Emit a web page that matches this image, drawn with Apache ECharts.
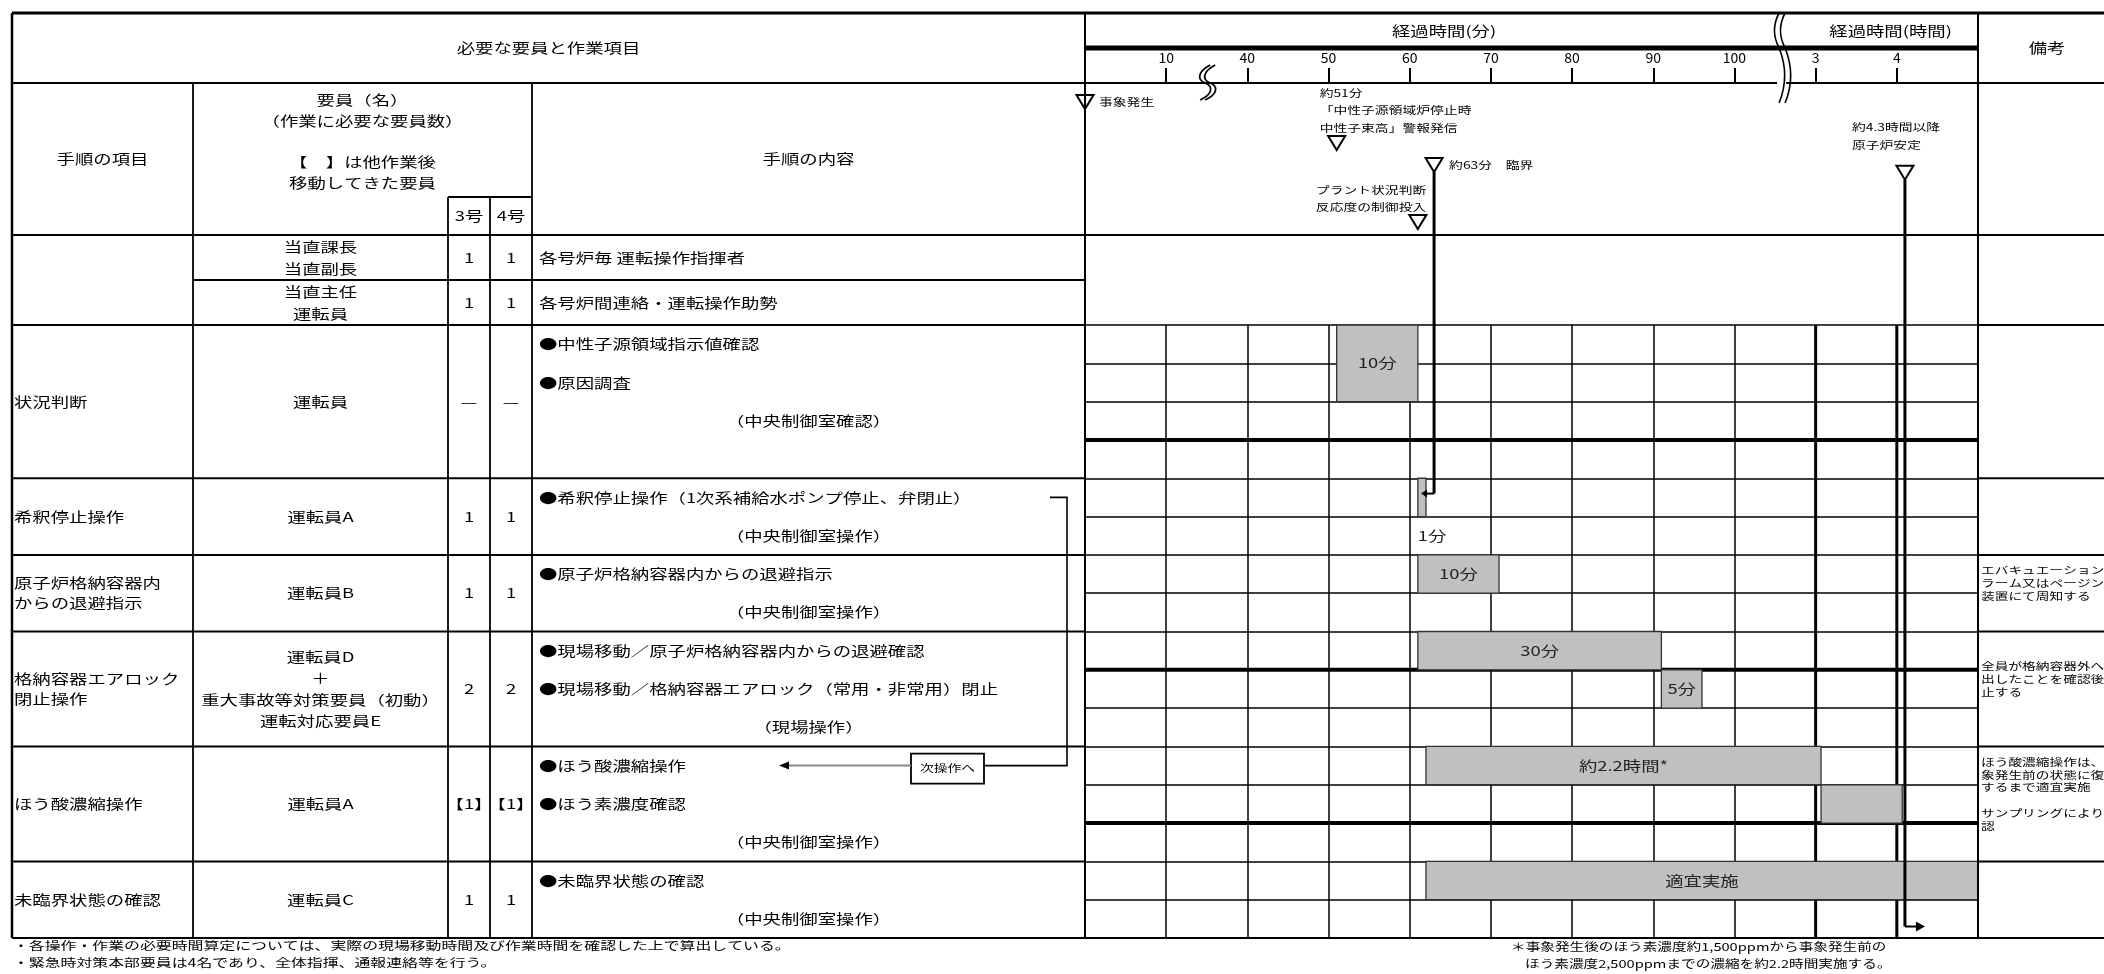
<!DOCTYPE html>
<html><head><meta charset="utf-8"><title>chart</title>
<script src="https://cdn.jsdelivr.net/npm/echarts@6.0.0/dist/echarts.min.js"></script>
<style>html,body{margin:0;padding:0;background:#fff;}#chart{width:2104px;height:974px;}</style>
</head><body><div id="chart"></div>
<script>
// ===== DATA =====
const tickMinutes = [0, 10, 40, 50, 60, 70, 80, 90, 100, 180, 240, 300];
const tickLabels = ['', '10', '40', '50', '60', '70', '80', '90', '100', '3', '4', ''];

const leadStaff = [['当直課長', '当直副長'], ['当直主任', '運転員']];
const leadUnit3 = ['1', '1'];
const leadUnit4 = ['1', '1'];
const leadContent = ['各号炉毎 運転操作指揮者', '各号炉間連絡・運転操作助勢'];

const procItems = [['状況判断'], ['希釈停止操作'], ['原子炉格納容器内', 'からの退避指示'], ['格納容器エアロック', '閉止操作'], ['ほう酸濃縮操作'], ['未臨界状態の確認']];
const procStaff = [['運転員'], ['運転員A'], ['運転員B'], ['運転員D', '＋', '重大事故等対策要員（初動）', '運転対応要員E'], ['運転員A'], ['運転員C']];
const procUnit3 = ['—', '1', '1', '2', '【1】', '1'];
const procUnit4 = ['—', '1', '1', '2', '【1】', '1'];
const procSubrows = [4, 2, 2, 3, 3, 2];
const procContent = [
  ['●中性子源領域指示値確認', '●原因調査', '（中央制御室確認）'],
  ['●希釈停止操作（1次系補給水ポンプ停止、弁閉止）', '（中央制御室操作）'],
  ['●原子炉格納容器内からの退避指示', '（中央制御室操作）'],
  ['●現場移動／原子炉格納容器内からの退避確認', '●現場移動／格納容器エアロック（常用・非常用）閉止', '（現場操作）'],
  ['●ほう酸濃縮操作', '●ほう素濃度確認', '（中央制御室操作）'],
  ['●未臨界状態の確認', '（中央制御室操作）']
];
const procNotes = [[], [], ['エバキュエーションア', 'ラーム又はページング', '装置にて周知する'],
  ['全員が格納容器外へ退', '出したことを確認後閉', '止する'],
  ['ほう酸濃縮操作は、事', '象発生前の状態に復帰', 'するまで適宜実施', '', 'サンプリングにより確', '認'], []];

// bars: minutes
const barStart   = [51, 61, 61, 61, 91, 62, 184, 62];
const barEnd     = [61, 62, 71, 91, 96, 184, 244, 300];
const barRowFrom = [0, 4, 6, 8, 9, 11, 12, 14];
const barRowTo   = [2, 5, 7, 9, 10, 12, 13, 15];
const barLabels  = ['10分', '1分', '10分', '30分', '5分', '約2.2時間*', '', '適宜実施'];

const eventTimes = [0, 51, 63, 61, 246];
const eventLabels = [['事象発生'], ['約51分', '「中性子源領域炉停止時', '中性子束高」警報発信'], ['約63分　臨界'], ['プラント状況判断', '反応度の制御投入'], ['約4.3時間以降', '原子炉安定']];

const footLeft = ['・各操作・作業の必要時間算定については、実際の現場移動時間及び作業時間を確認した上で算出している。', '・緊急時対策本部要員は4名であり、全体指揮、通報連絡等を行う。'];
const footRight = ['＊事象発生後のほう素濃度約1,500ppmから事象発生前の', 'ほう素濃度2,500ppmまでの濃縮を約2.2時間実施する。'];

// ===== LAYOUT / STYLE =====
const F = '"Noto Sans CJK JP","Noto Sans CJK SC",sans-serif';
const L = { x0: 12, cProc: 193, c3: 448, c4: 490, cCont: 532, tL: 1085, tR: 1978, pageR: 2104,
  yTop: 13, yTimeHdr: 48, yHdr1: 83, yUnit: 197, yHdr2: 235, yLeadMid: 280, yBody: 325, yBot: 938 };
const eventStyle = [
  { lvl: 0.125, dx: 14, dy: 0 },
  { lvl: 0.395, dx: -17, dy: -50 },
  { lvl: 0.54, dx: 15, dy: 0 },
  { lvl: 0.915, dx: -102, dy: -32 },
  { lvl: 0.59, dx: -53, dy: -45 }
];
const dividerRows = [3, 9, 13];
const hourCols = [9, 10];

function toPos(m) {
  for (let i = 0; i < tickMinutes.length - 1; i++) {
    if (m <= tickMinutes[i + 1]) return i + (m - tickMinutes[i]) / (tickMinutes[i + 1] - tickMinutes[i]);
  }
  return tickMinutes.length - 1;
}
function textEl(x, y, text, o) {
  o = o || {};
  const a = o.a || 'left';
  return { type: 'text', z: 101, silent: true, x: x, y: y, scaleX: o.sx || 1.36,
    style: { text: text, x: 0, y: 0, fontSize: o.fs || 13.5, fontFamily: F, fill: o.c || '#000',
      align: a, verticalAlign: 'middle', textAlign: a, textVerticalAlign: 'middle' } };
}

const chart = echarts.init(document.getElementById('chart'), null, { renderer: 'canvas' });
const blk = '#000';
const option = {
  backgroundColor: '#fff',
  animation: false,
  grid: [
    { left: L.tL, top: L.yBody, width: L.tR - L.tL, height: L.yBot - L.yBody, show: false },
    { left: L.tL, top: L.yHdr1, width: L.tR - L.tL, height: L.yHdr2 - L.yHdr1, show: false }
  ],
  xAxis: [
    { type: 'value', gridIndex: 0, min: 0, max: 11, interval: 1,
      axisLine: { show: false }, axisTick: { show: false }, axisLabel: { show: false },
      splitLine: { show: true, lineStyle: { color: blk, width: 1.5 } } },
    { type: 'value', gridIndex: 1, position: 'top', min: 0, max: 11, interval: 1,
      axisLine: { show: true, onZero: false, lineStyle: { color: blk, width: 1.8 } },
      axisTick: { show: true, inside: false, length: 15, lineStyle: { color: blk, width: 2 } },
      axisLabel: { show: true, margin: 18, fontSize: 14, fontFamily: F, color: '#000',
        formatter: function (v) { return tickLabels[Math.round(v)] || ''; } },
      splitLine: { show: false } }
  ],
  yAxis: [
    { type: 'value', gridIndex: 0, min: 0, max: 16, interval: 1, inverse: true,
      axisLine: { show: false }, axisTick: { show: false }, axisLabel: { show: false },
      splitLine: { show: true, lineStyle: { color: blk, width: 1.5 } } },
    { type: 'value', gridIndex: 1, min: 0, max: 1, inverse: true, show: false }
  ],
  series: [
    { type: 'custom', name: 'dividers', xAxisIndex: 0, yAxisIndex: 0, z: 3, silent: true,
      data: dividerRows.map(r => [0, r, 11, r]).concat(hourCols.map(c => [c, 0, c, 16])),
      encode: { x: [0, 2], y: [1, 3] },
      renderItem: function (params, api) {
        const a = api.coord([api.value(0), api.value(1)]);
        const b = api.coord([api.value(2), api.value(3)]);
        const horiz = api.value(1) === api.value(3);
        return { type: 'line', shape: { x1: a[0], y1: a[1], x2: b[0], y2: b[1] },
          style: { stroke: blk, lineWidth: horiz ? 4 : 3 } };
      } },
    { type: 'custom', name: 'bars', xAxisIndex: 0, yAxisIndex: 0, z: 5, silent: true,
      data: barStart.map((s, i) => [toPos(s), toPos(barEnd[i]), barRowFrom[i], barRowTo[i]]),
      encode: { x: [0, 1], y: [2, 3] },
      renderItem: function (params, api) {
        const p0 = api.coord([api.value(0), api.value(2)]);
        const p1 = api.coord([api.value(1), api.value(3)]);
        const w = p1[0] - p0[0], h = p1[1] - p0[1];
        const ch = [{ type: 'rect', shape: { x: p0[0], y: p0[1], width: w, height: h },
          style: { fill: '#c0c0c0', stroke: '#333', lineWidth: 1.3 } }];
        const lbl = barLabels[params.dataIndex];
        if (lbl) {
          if (w < 30) ch.push(textEl(p0[0], p1[1] + h / 2, lbl, { c: '#222' }));
          else ch.push(textEl(p0[0] + w / 2, p0[1] + h / 2, lbl, { a: 'center', c: '#222' }));
        }
        return { type: 'group', children: ch };
      } },
    { type: 'custom', name: 'events', xAxisIndex: 1, yAxisIndex: 1, z: 6, silent: true,
      data: eventTimes.map((t, i) => [toPos(t), eventStyle[i].lvl]),
      encode: { x: 0, y: 1 },
      renderItem: function (params, api) {
        const p = api.coord([api.value(0), api.value(1)]);
        const st = eventStyle[params.dataIndex];
        const ch = [{ type: 'polygon', shape: { points: [[p[0] - 8.5, p[1] - 7], [p[0] + 8.5, p[1] - 7], [p[0], p[1] + 7]] },
          style: { fill: '#fff', stroke: blk, lineWidth: 2 } }];
        eventLabels[params.dataIndex].forEach(function (t, k) {
          ch.push(textEl(p[0] + st.dx, p[1] + st.dy + k * 17.5, t, { fs: 10, sx: 1.38 }));
        });
        return { type: 'group', children: ch };
      } }
  ]
};
chart.setOption(option);

// ===== TABLE (positions derived from the axes) =====
const px = (pos, row) => chart.convertToPixel({ xAxisIndex: 0, yAxisIndex: 0 }, [pos, row]);
const px1 = (pos, lvl) => chart.convertToPixel({ xAxisIndex: 1, yAxisIndex: 1 }, [pos, lvl]);
const rowY = r => px(0, r)[1];
const els = [];
const ln = (x1, y1, x2, y2, w, c) => els.push({ type: 'line', z: 100, silent: true, shape: { x1, y1, x2, y2 }, style: { stroke: c || blk, lineWidth: w || 1.8 } });
const tx = (x, y, t, o) => { if (t) els.push(textEl(x, y, t, o)); };
const bz = (p0, c1, c2, p1, w) => els.push({ type: 'bezierCurve', z: 102, silent: true,
  shape: { x1: p0[0], y1: p0[1], cpx1: c1[0], cpy1: c1[1], cpx2: c2[0], cpy2: c2[1], x2: p1[0], y2: p1[1] },
  style: { stroke: blk, lineWidth: w || 1.8, fill: null } });

// frame lines
ln(L.x0, L.yTop, L.pageR, L.yTop, 3);
ln(L.x0, L.yHdr1, L.pageR, L.yHdr1, 2);
ln(L.x0, L.yHdr2, L.pageR, L.yHdr2, 2);
ln(L.tL, L.yTimeHdr, L.tR, L.yTimeHdr, 5);
ln(L.cProc, L.yLeadMid, L.tL, L.yLeadMid, 1.8);
ln(L.c3, L.yUnit, L.cCont, L.yUnit, 1.8);
ln(L.x0, L.yTop, L.x0, L.yBot, 2.5);
ln(L.cProc, L.yHdr1, L.cProc, L.yBot, 1.8);
ln(L.c3, L.yUnit, L.c3, L.yBot, 1.8);
ln(L.c4, L.yUnit, L.c4, L.yBot, 1.8);
ln(L.cCont, L.yHdr1, L.cCont, L.yBot, 1.8);
ln(L.tL, L.yTop, L.tL, L.yBot, 2);
ln(L.tR, L.yTop, L.tR, L.yBot, 2);
ln(L.x0, L.yBot, L.pageR, L.yBot, 2.2);

// header texts
const midL = (L.x0 + L.tL) / 2;
tx(midL, 48, '必要な要員と作業項目', { a: 'center' });
tx((L.x0 + L.cProc) / 2, 159, '手順の項目', { a: 'center' });
['要員（名）', '（作業に必要な要員数）', '', '【　】は他作業後', '移動してきた要員'].forEach((t, k) =>
  tx((L.cProc + L.cCont) / 2, 100 + k * 20.75, t, { a: 'center' }));
tx((L.c3 + L.c4) / 2, 216, '3号', { a: 'center' });
tx((L.c4 + L.cCont) / 2, 216, '4号', { a: 'center' });
tx((L.cCont + L.tL) / 2, 159, '手順の内容', { a: 'center' });
const brX = px1(8.55, 0)[0];
tx((L.tL + brX) / 2 + 12, 31, '経過時間(分)', { a: 'center' });
tx((brX + L.tR) / 2 + 12, 31, '経過時間(時間)', { a: 'center' });
tx(2047, 48, '備考', { a: 'center' });

const cx3 = (L.c3 + L.c4) / 2, cx4 = (L.c4 + L.cCont) / 2, cxStaff = (L.cProc + L.c3) / 2;
const cxCont = (L.cCont + L.tL) / 2, xCont = L.cCont + 7;

// lead rows (above the time grid)
const leadY = [L.yHdr2, L.yLeadMid, L.yBody];
for (let i = 0; i < 2; i++) {
  const c = (leadY[i] + leadY[i + 1]) / 2;
  leadStaff[i].forEach((t, k) => tx(cxStaff, c + (k - (leadStaff[i].length - 1) / 2) * 22, t, { a: 'center' }));
  tx(cx3, c, leadUnit3[i], { a: 'center' });
  tx(cx4, c, leadUnit4[i], { a: 'center' });
  tx(xCont, c, leadContent[i]);
}

// procedure rows
let r0 = 0;
for (let i = 0; i < procItems.length; i++) {
  const n = procSubrows[i];
  const yT = rowY(r0), yB = rowY(r0 + n), c = (yT + yB) / 2;
  ln(L.x0, yB, L.tL, yB, 2);
  ln(L.tR, yB, L.pageR, yB, 2);
  if (i === 0) { ln(L.x0, yT, L.tL, yT, 2); ln(L.tR, yT, L.pageR, yT, 2); }
  procItems[i].forEach((t, k) => tx(L.x0 + 2, c + (k - (procItems[i].length - 1) / 2) * 20, t));
  procStaff[i].forEach((t, k) => tx(cxStaff, c + (k - (procStaff[i].length - 1) / 2) * 21.5, t, { a: 'center' }));
  tx(cx3, c, procUnit3[i], { a: 'center' });
  tx(cx4, c, procUnit4[i], { a: 'center' });
  procContent[i].forEach((t, k) => {
    const y = rowY(r0 + k + 0.5);
    if (t.charAt(0) === '（') tx(cxCont, y, t, { a: 'center' }); else tx(xCont, y, t);
  });
  const nl = procNotes[i].length;
  procNotes[i].forEach((t, k) => tx(L.tR + 3, c - 10 + (k - (nl - 1) / 2) * 12.8, t, { fs: 10, sx: 1.37 }));
  r0 += n;
}

// connector: 希釈停止操作 -> 次操作へ -> ほう酸濃縮操作
const yA = rowY(4.5), yC = rowY(11.5);
els.push({ type: 'polyline', z: 100, silent: true, shape: { points: [[1050, yA], [1067, yA], [1067, yC], [984, yC]] }, style: { stroke: blk, lineWidth: 1.6, fill: null } });
els.push({ type: 'rect', z: 100, silent: true, shape: { x: 911, y: yC - 12, width: 73, height: 30 }, style: { fill: '#fff', stroke: blk, lineWidth: 1.8 } });
tx(947.5, yC + 3, '次操作へ', { a: 'center', fs: 10, sx: 1.38 });
ln(911, yC, 786, yC, 2, '#888');
els.push({ type: 'polygon', z: 100, silent: true, shape: { points: [[779, yC], [789, yC - 4], [789, yC + 4]] }, style: { fill: blk } });

// event drop lines
const e63 = px1(toPos(63), eventStyle[2].lvl), eEnd = px1(toPos(246), eventStyle[4].lvl);
const yh = rowY(4.4);
ln(e63[0], e63[1] + 7, e63[0], yh, 3);
ln(e63[0], yh, e63[0] - 9, yh, 2);
els.push({ type: 'polygon', z: 100, silent: true, shape: { points: [[e63[0] - 13, yh], [e63[0] - 7, yh - 4], [e63[0] - 7, yh + 4]] }, style: { fill: blk } });
const ye = rowY(15.7);
ln(eEnd[0], eEnd[1] + 7, eEnd[0], ye, 3);
ln(eEnd[0], ye, eEnd[0] + 12, ye, 2);
els.push({ type: 'polygon', z: 100, silent: true, shape: { points: [[eEnd[0] + 20, ye], [eEnd[0] + 11, ye - 5], [eEnd[0] + 11, ye + 5]] }, style: { fill: blk } });

// axis break marks
const b1 = px1(1.48, 0)[0];
[0, 5].forEach(o => {
  bz([b1 + 5 + o, 65], [b1 - 8 + o, 72], [b1 - 8 + o, 80], [b1 + o, 83]);
  bz([b1 + o, 83], [b1 + 8 + o, 86], [b1 + 8 + o, 94], [b1 - 5 + o, 100]);
});
els.push({ type: 'rect', z: 101, silent: true, shape: { x: brX - 2, y: 80, width: 9, height: 6 }, style: { fill: '#fff' } });
els.push({ type: 'rect', z: 101, silent: true, shape: { x: brX - 6, y: 15, width: 16, height: 30 }, style: { fill: '#fff' } });
[0, 6].forEach(o => {
  const x = brX + o;
  bz([x, 13], [x - 6, 24.3], [x - 6, 36.7], [x, 48], 1.6);
  bz([x, 48], [x + 7.3, 66], [x + 7.3, 85], [x, 103], 1.6);
});

// footnotes
footLeft.forEach((t, k) => tx(13, 946 + k * 17, t, { fs: 11.5, sx: 1.38 }));
footRight.forEach((t, k) => tx(1511 + k * 14, 947 + k * 17, t, { fs: 11, sx: 1.33 }));

chart.setOption({ graphic: { elements: els } });
</script></body></html>
